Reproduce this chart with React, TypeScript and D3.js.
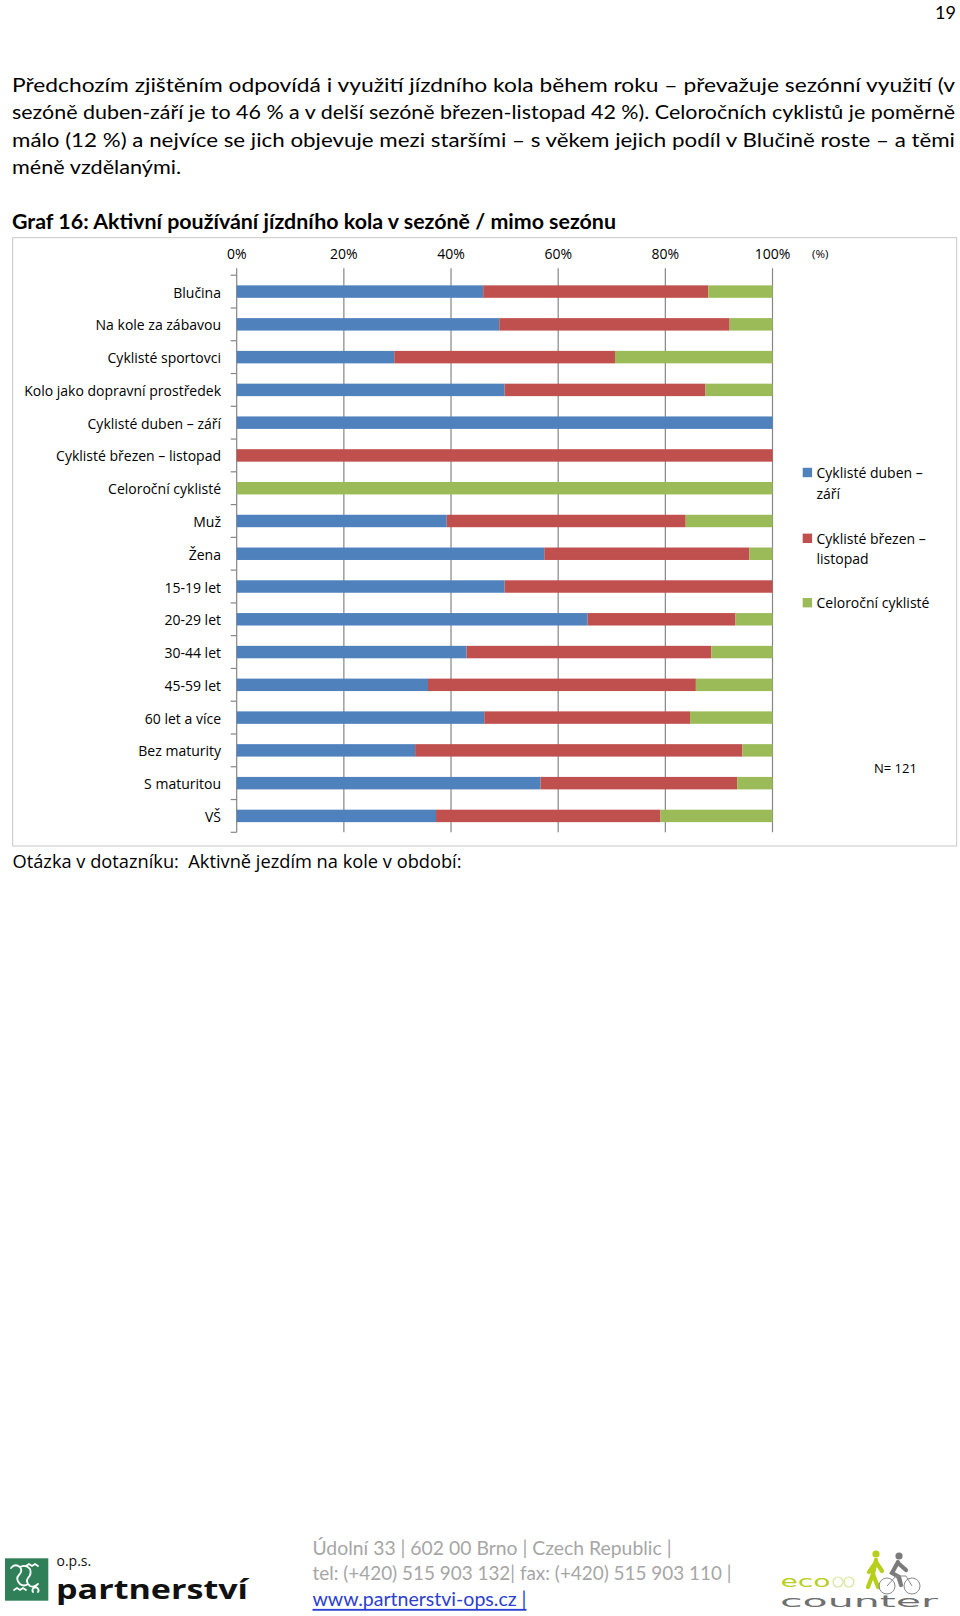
import React from "react";
import * as d3 from "d3";

const categories = [
  "Blučina",
  "Na kole za zábavou",
  "Cyklisté sportovci",
  "Kolo jako dopravní prostředek",
  "Cyklisté duben – září",
  "Cyklisté březen – listopad",
  "Celoroční cyklisté",
  "Muž",
  "Žena",
  "15-19 let",
  "20-29 let",
  "30-44 let",
  "45-59 let",
  "60 let a více",
  "Bez maturity",
  "S maturitou",
  "VŠ",
];
const dubenZari = [46, 49, 29.4, 50, 100, 0, 0, 39.2, 57.4, 50, 65.5, 42.9, 35.7, 46.2, 33.3, 56.7, 37.2];
const brezenListopad = [42, 43, 41.2, 37.5, 0, 100, 0, 44.6, 38.3, 50, 27.6, 45.7, 50, 38.4, 61.1, 36.7, 41.9];
const celorocni = [12, 8, 29.4, 12.5, 0, 0, 100, 16.2, 4.3, 0, 6.9, 11.4, 14.3, 15.4, 5.6, 6.6, 20.9];
const seriesKeys = ["duben", "brezen", "celo"];
const seriesLabels = [["Cyklisté duben –", "září"], ["Cyklisté březen –", "listopad"], ["Celoroční cyklisté"]];
const seriesColors = ["#4f81bd", "#c0504d", "#9bbb59"];
const tickValues = [0, 20, 40, 60, 80, 100];
const tickLabels = ["0%", "20%", "40%", "60%", "80%", "100%"];

const paragraph = [
  "Předchozím zjištěním odpovídá i využití jízdního kola během roku – převažuje sezónní využití (v",
  "sezóně duben-září je to 46 % a v delší sezóně březen-listopad 42 %). Celoročních cyklistů je poměrně",
  "málo (12 %) a nejvíce se jich objevuje mezi staršími – s věkem jejich podíl v Blučině roste – a těmi",
  "méně vzdělanými.",
];
const title = "Graf 16: Aktivní používání jízdního kola v sezóně / mimo sezónu";
const question = "Otázka v dotazníku:  Aktivně jezdím na kole v období:";
const footer = [
  "Údolní 33 | 602 00 Brno | Czech Republic |",
  "tel: (+420) 515 903 132| fax: (+420) 515 903 110 |",
  "www.partnerstvi-ops.cz |",
];

const FONT = "Lato, 'Open Sans', sans-serif";
const CFONT = "'Open Sans', Lato, sans-serif";

export default function App() {
  const x = d3.scaleLinear().domain([0, 100]).range([236.7, 772.5]);
  const y = d3.scaleBand<string>().domain(categories).range([275.2, 832.3]).paddingInner(0.62).paddingOuter(0.31);
  const step = y.step();
  const rows = categories.map((c, i) => ({ cat: c, duben: dubenZari[i], brezen: brezenListopad[i], celo: celorocni[i] }));
  const stacked = d3.stack<any>().keys(seriesKeys)(rows);
  const plotTop = 275.2;
  const plotBottom = 832.3;
  const boundaries = d3.range(categories.length + 1).map((i) => plotTop + i * step);

  const legendY = [472.5, 538.3, 602.7];

  return (
    <div style={{ position: "absolute", left: 0, top: 0 }}>
      <svg width={960} height={1616} style={{ display: "block", background: "#fff" }}>
        <text x={956} y={18.5} textAnchor="end" fontFamily={FONT} fontSize={18} fill="#000">19</text>

        {paragraph.map((line, i) => (
          <text
            key={i}
            x={12}
            y={84.5 + i * 27.4}
            dominantBaseline="central"
            fontFamily={FONT}
            fontSize={19.5}
            fill="#000"
            textLength={i < 3 ? 943 : 169}
            lengthAdjust="spacingAndGlyphs"
          >
            {line}
          </text>
        ))}

        <text x={12} y={228.5} fontFamily={FONT} fontSize={20.5} fontWeight="bold" fill="#000" textLength={604} lengthAdjust="spacingAndGlyphs">
          {title}
        </text>

        <rect x={12.7} y={237.7} width={944} height={608.3} fill="#fff" stroke="#c8c8c8" strokeWidth={1} />

        {/* gridlines */}
        {tickValues.map((v) => (
          <line key={"g" + v} x1={x(v)} x2={x(v)} y1={plotTop - 7} y2={plotBottom} stroke="#868686" strokeWidth={1.2} />
        ))}
        {tickValues.map((v, i) => (
          <text key={"t" + v} x={x(v)} y={253.5} textAnchor="middle" dominantBaseline="central" fontFamily={CFONT} fontSize={14} fill="#000">
            {tickLabels[i]}
          </text>
        ))}
        <text x={812} y={253.5} dominantBaseline="central" fontFamily={CFONT} fontSize={11.5} fill="#000">(%)</text>

        {/* category axis ticks */}
        {boundaries.map((b, i) => (
          <line key={"ct" + i} x1={x(0) - 6} x2={x(0)} y1={b} y2={b} stroke="#868686" strokeWidth={1.2} />
        ))}

        {/* bars */}
        {stacked.map((s, si) => (
          <g key={s.key} fill={seriesColors[si]}>
            {s.map((d: any, i: number) => {
              const w = x(d[1]) - x(d[0]);
              if (w <= 0) return null;
              return <rect key={i} x={x(d[0])} y={y(categories[i])!} width={w} height={y.bandwidth()} />;
            })}
          </g>
        ))}

        {/* category labels */}
        {categories.map((c) => (
          <text key={c} x={221} y={y(c)! + y.bandwidth() / 2 + 0.5} textAnchor="end" dominantBaseline="central" fontFamily={CFONT} fontSize={14} fill="#000">
            {c}
          </text>
        ))}

        {/* legend */}
        {seriesLabels.map((lines, si) => (
          <g key={"l" + si}>
            <rect x={802.7} y={legendY[si] - 4.7} width={9.4} height={9.4} fill={seriesColors[si]} />
            {lines.map((ln, li) => (
              <text key={li} x={816.5} y={legendY[si] + li * 20.5} dominantBaseline="central" fontFamily={CFONT} fontSize={14} fill="#000">
                {ln}
              </text>
            ))}
          </g>
        ))}
        <text x={874} y={768.3} dominantBaseline="central" fontFamily={CFONT} fontSize={13} fill="#000">N= 121</text>

        <text x={12.5} y={860} dominantBaseline="central" fontFamily={CFONT} fontSize={18.5} fill="#000" textLength={449} lengthAdjust="spacingAndGlyphs" style={{ whiteSpace: "pre" }}>
          {question}
        </text>

        {/* footer text */}
        {footer.map((ln, i) => (
          <text
            key={"f" + i}
            x={312.5}
            y={1547.7 + i * 25.6}
            dominantBaseline="central"
            fontFamily={FONT}
            fontSize={18.5}
            fill={i === 2 ? "#2b3fd1" : "#a6a6a6"}
            textDecoration={i === 2 ? "underline" : undefined}
            textLength={[359, 419, 214][i]}
            lengthAdjust="spacingAndGlyphs"
          >
            {ln}
          </text>
        ))}

        {/* partnerství logo */}
        <g>
          <rect x={5} y={1558.3} width={43.3} height={42.4} fill="#2f7f58" />
          <path d="M11 1568 q4 -5 9 -1 q3 4 -1 8 q-4 4 1 9 q4 3 8 0 M20 1567 q6 -3 10 2 q2 5 -2 9 q-3 4 2 8 q4 2 8 -2 M26 1566 l3 -2 l3 2 l3 -2 l3 2 M14 1590 l3 -2 l3 2 l3 -2 l3 2 M33 1592 a3 3 0 1 1 5 0" fill="none" stroke="#fff" strokeWidth={1.8} strokeLinecap="round" />
          <text x={56.5} y={1560} dominantBaseline="central" fontFamily="'Open Sans', sans-serif" fontSize={14} fill="#111">o.p.s.</text>
          <text x={56} y={1599} fontFamily="'Open Sans', sans-serif" fontWeight="bold" fontSize={26} fill="#111" textLength={192} lengthAdjust="spacingAndGlyphs">partnerství</text>
        </g>

        {/* eco-counter logo */}
        <g>
          <text x={780.5} y={1587} fontFamily="'DejaVu Sans', sans-serif" fontSize={16} fill="#b7cf1c" textLength={50} lengthAdjust="spacingAndGlyphs">eco</text>
          <text x={780} y={1607} fontFamily="'DejaVu Sans', sans-serif" fontSize={16} fill="#6f6f6f" textLength={158} lengthAdjust="spacingAndGlyphs">counter</text>
          <circle cx={838} cy={1582} r={5} fill="none" stroke="#d8e59a" strokeWidth={1.2} />
          <circle cx={849} cy={1582} r={5} fill="none" stroke="#d8e59a" strokeWidth={1.2} />
          {/* walker */}
          <circle cx={876} cy={1554} r={3.6} fill="#b7cf1c" />
          <path d="M876 1560 l-3 14 l-5 13 M873 1574 l5 13 M876 1562 l-7 10 M876 1562 l6 9" fill="none" stroke="#b7cf1c" strokeWidth={4.2} strokeLinecap="round" />
          {/* cyclist */}
          <circle cx={899} cy={1556} r={3.6} fill="#7a7a7a" />
          <path d="M898 1562 l-6 11 l7 4 l2 8 M898 1563 l8 7" fill="none" stroke="#7a7a7a" strokeWidth={4.2} strokeLinecap="round" />
          <circle cx={887} cy={1586} r={8} fill="none" stroke="#8a8a8a" strokeWidth={1} />
          <circle cx={912} cy={1586} r={8} fill="none" stroke="#8a8a8a" strokeWidth={1} />
          <path d="M887 1586 l9 -10 l10 0 l6 10 M896 1576 l4 10" fill="none" stroke="#8a8a8a" strokeWidth={1} />
        </g>
      </svg>
    </div>
  );
}
